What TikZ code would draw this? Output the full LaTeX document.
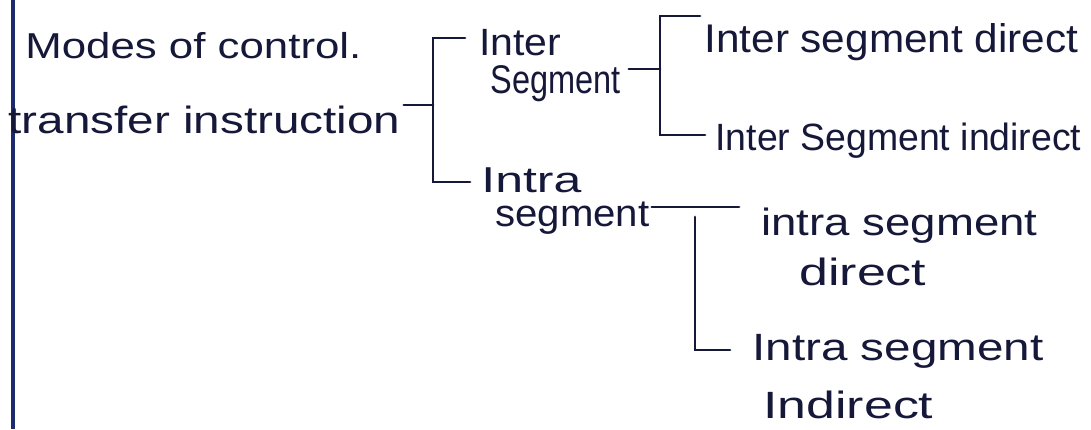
\documentclass[tikz,border=0pt]{standalone}
\usepackage{fontspec}
\usepackage{graphicx}
\setmainfont{Liberation Sans}
\definecolor{ink}{RGB}{22,24,58}
\definecolor{margin}{RGB}{28,42,110}
\newcommand{\fw}[2]{\resizebox{#1}{\height}{#2}}
\begin{document}
\begin{tikzpicture}[x=0.5pt,y=-0.5pt,
  txt/.style={anchor=base west,inner sep=0pt,text=ink,font=\fontsize{19}{23}\selectfont},
  link/.style={draw=ink,line width=1.4pt,line cap=round,line join=miter}]
\useasboundingbox[fill=white] (0,0) rectangle (1091,429);
% page margin line
\draw[margin,line width=1.6pt] (13,0) -- (13,429);
% texts
\node[txt,font=\fontsize{18}{22}\selectfont] (root1) at (25,58) {\fw{168pt}{Modes of control.}};
\node[txt] (root2) at (8,133) {\fw{196pt}{transfer instruction}};
\node[txt] (interA) at (479,55) {\fw{41pt}{Inter}};
\node[txt,font=\fontsize{20}{24}\selectfont] (interB) at (490,93) {\fw{65pt}{Segment}};
\node[txt,font=\fontsize{18}{22}\selectfont] (intraA) at (481,192) {\fw{50pt}{Intra}};
\node[txt] (intraB) at (495,226) {\fw{77pt}{segment}};
\node[txt,font=\fontsize{20}{24}\selectfont] (isd) at (704,52) {\fw{187pt}{Inter segment direct}};
\node[txt] (isi) at (715,150) {\fw{183pt}{Inter Segment indirect}};
\node[txt] (trd1) at (761,235) {\fw{138pt}{intra segment}};
\node[txt] (trd2) at (799,285) {\fw{63.5pt}{direct}};
\node[txt] (tri1) at (752,360) {\fw{145.5pt}{Intra segment}};
\node[txt] (tri2) at (763,418) {\fw{85pt}{Indirect}};
% junctions
\coordinate (j1) at (433,105);
\coordinate (j2) at (660,69);
\coordinate (j3) at (695,217);
% level 1
\draw[link,shorten <=1.5pt] ([yshift=14pt]root2.base east) -- (j1);
\draw[link,shorten >=7pt] (j1) |- ([yshift=8.5pt]interA.base west);
\draw[link,shorten >=5.5pt] (j1) |- ([yshift=5pt]intraA.base west);
% level 2: inter
\draw[link,shorten <=4pt] ([yshift=12pt]interB.base east) -- (j2);
\draw[link,shorten >=2pt] (j2) |- ([yshift=18pt]isd.base west);
\draw[link,shorten >=5pt] (j2) |- ([yshift=7.5pt]isi.base west);
% level 2: intra
\draw[link,shorten <=1pt,shorten >=11pt] ([yshift=9.5pt]intraB.base east) -- ([yshift=9.5pt]intraB.base east -| trd1.base west);
\draw[link,shorten >=11pt] (j3) |- ([yshift=5pt]tri1.base west);
\end{tikzpicture}
\end{document}
